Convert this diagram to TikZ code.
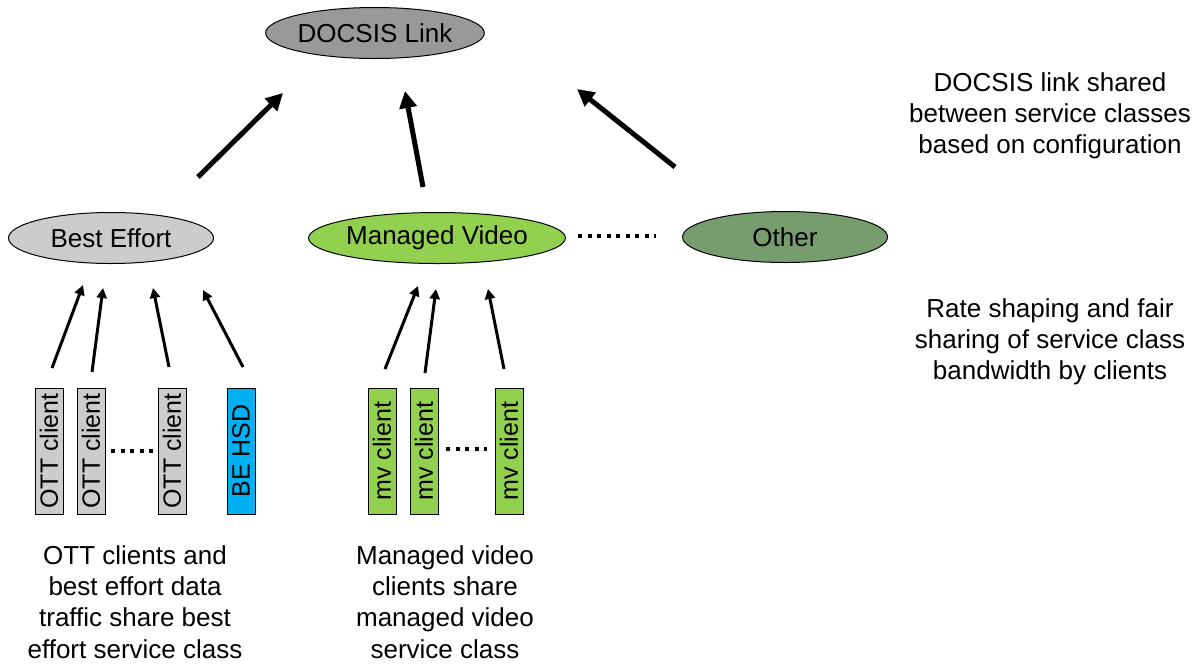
\documentclass[tikz,border=0pt]{standalone}
\usepackage{fontspec}
\setmainfont{Liberation Sans}
\usetikzlibrary{arrows.meta,shapes.geometric}
\definecolor{linkgray}{RGB}{153,153,153}
\definecolor{begray}{RGB}{204,204,204}
\definecolor{mvgreen}{RGB}{146,208,80}
\definecolor{othergreen}{RGB}{119,157,110}
\definecolor{hsdblue}{RGB}{0,176,240}

\begin{document}
\begin{tikzpicture}[x=0.5pt, y=-0.5pt,
	svc/.style={draw, ellipse, line width=0.5pt, minimum width=102.5pt, minimum height=25.5pt, inner sep=0pt, font=\fontsize{13}{15.6}\selectfont},
	client/.style={draw, rotate=90, line width=0.5pt, minimum width=63pt, minimum height=14pt, inner sep=0pt, font=\fontsize{12.5}{14}\selectfont},
	bigarrow/.style={line width=2.5pt, -{Triangle[length=8.5pt,width=8.5pt]}},
	smallarrow/.style={line width=1.5pt, -{Triangle[length=5pt,width=5pt]}},
	dots/.style={line width=2pt, dash pattern=on 2pt off 2.75pt},
	note/.style={align=center, font=\fontsize{13}{15.6}\selectfont}]
	\useasboundingbox (0,0) rectangle (1199,665);
	
	% Define the link and the service classes
	\node[svc, fill=linkgray] (link) at (375,33) {DOCSIS Link};
	\node[svc, fill=begray] (be) at (111,238) {Best Effort};
	\node[svc, fill=mvgreen] (mv) at (437,238) {Managed Video};
	\node[svc, fill=othergreen] (other) at (785,237) {Other};
	
	% Clients of each service class
	\node[client, fill=begray] (ott1) at (49,451) {OTT client};
	\node[client, fill=begray] (ott2) at (91,451) {OTT client};
	\node[client, fill=begray] (ott3) at (172,451) {OTT client};
	\node[client, fill=hsdblue] (hsd) at (241,451) {BE HSD};
	\node[client, fill=mvgreen] (mv1) at (382,451) {mv client};
	\node[client, fill=mvgreen] (mv2) at (424,451) {mv client};
	\node[client, fill=mvgreen] (mv3) at (509,451) {mv client};
	
	% Ends of the arrows
	\coordinate (beout) at (198,177);  \coordinate (linkbe) at (283,93);
	\coordinate (mvout) at (423,187);  \coordinate (linkmv) at (405,91);
	\coordinate (otout) at (675,167);  \coordinate (linkot) at (577,89);
	\coordinate (ott1out) at (52,368);  \coordinate (beott1) at (83,285);
	\coordinate (ott2out) at (92,372);  \coordinate (beott2) at (103,288);
	\coordinate (ott3out) at (169,367); \coordinate (beott3) at (153,288);
	\coordinate (hsdout) at (243,367);  \coordinate (behsd) at (203,290);
	\coordinate (mv1out) at (385,369);  \coordinate (mvmv1) at (418,286);
	\coordinate (mv2out) at (425,373);  \coordinate (mvmv2) at (436,289);
	\coordinate (mv3out) at (504,369);  \coordinate (mvmv3) at (488,289);
	
	\draw[bigarrow] (beout) -- (linkbe);
	\draw[bigarrow] (mvout) -- (linkmv);
	\draw[bigarrow] (otout) -- (linkot);
	\draw[smallarrow] (ott1out) -- (beott1);
	\draw[smallarrow] (ott2out) -- (beott2);
	\draw[smallarrow] (ott3out) -- (beott3);
	\draw[smallarrow] (hsdout) -- (behsd);
	\draw[smallarrow] (mv1out) -- (mvmv1);
	\draw[smallarrow] (mv2out) -- (mvmv2);
	\draw[smallarrow] (mv3out) -- (mvmv3);
	
	% Dotted gaps
	\coordinate (gapa) at (578,236); \coordinate (gapb) at (656,236);
	\coordinate (gapc) at (111,451); \coordinate (gapd) at (153,451);
	\coordinate (gape) at (446,449); \coordinate (gapf) at (487,449);
	\draw[dots] (gapa) -- (gapb);
	\draw[dots] (gapc) -- (gapd);
	\draw[dots] (gape) -- (gapf);
	
	% Notes
	\node[note] (noteup) at (1050,116) {DOCSIS link shared\\between service classes\\based on configuration};
	\node[note] (notemid) at (1050,342) {Rate shaping and fair\\sharing of service class\\bandwidth by clients};
	\node[note] (notebe) at (135,602) {OTT clients and\\best effort data\\traffic share best\\effort service class};
	\node[note] (notemv) at (445,602) {Managed video\\clients share\\managed video\\service class};
\end{tikzpicture}
\end{document}
